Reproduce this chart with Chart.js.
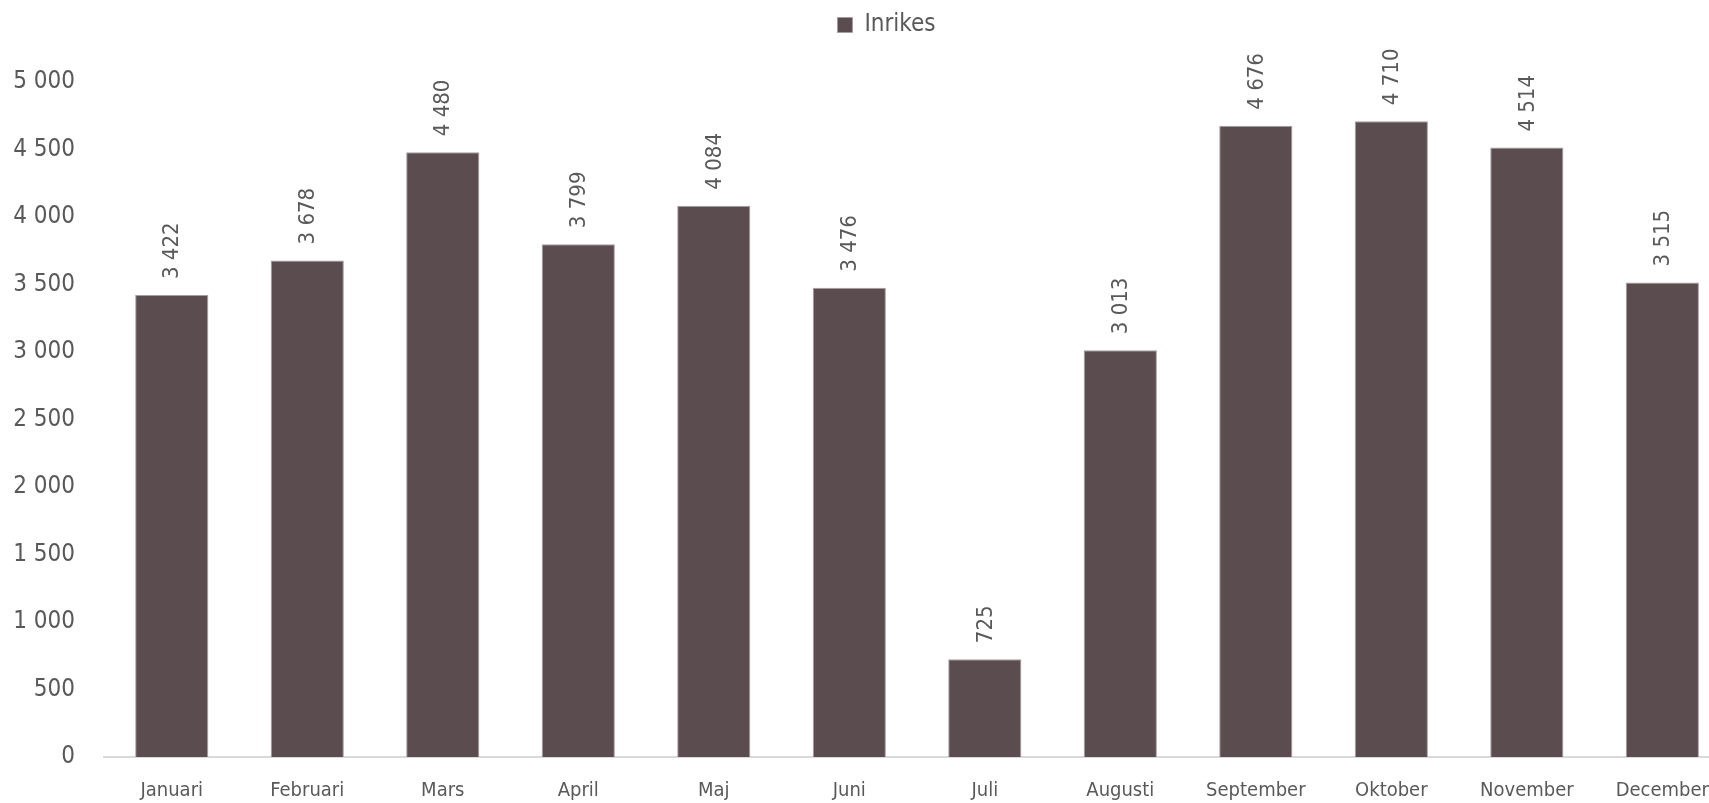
<!DOCTYPE html>
<html>
<head>
<meta charset="utf-8">
<script src="https://cdn.jsdelivr.net/npm/chart.js@4.4.1/dist/chart.umd.min.js"></script>
<style>
html, body { margin: 0; padding: 0; overflow: hidden; background: #ffffff; }
#wrap { width: 1731px; height: 803px; position: relative; }
</style>
</head>
<body>
<div id="wrap"><canvas id="c"></canvas></div>
<script>
const categories = ["Januari","Februari","Mars","April","Maj","Juni","Juli","Augusti","September","Oktober","November","December"];
const seriesName = "Inrikes";
const values = [3422, 3678, 4480, 3799, 4084, 3476, 725, 3013, 4676, 4710, 4514, 3515];
const yTicks = [0, 500, 1000, 1500, 2000, 2500, 3000, 3500, 4000, 4500, 5000];

const FONT = "'DejaVu Sans Condensed', 'Liberation Sans Narrow', sans-serif";
const TEXT = "#595959";

function fmt(v) {
  return String(v).replace(/\B(?=(\d{3})+(?!\d))/g, " ");
}

const dataLabels = {
  id: "dataLabels",
  afterDatasetsDraw(chart) {
    const ctx = chart.ctx;
    const meta = chart.getDatasetMeta(0);
    ctx.save();
    ctx.fillStyle = TEXT;
    ctx.font = "22px " + FONT;
    ctx.textAlign = "left";
    ctx.textBaseline = "middle";
    meta.data.forEach((bar, i) => {
      ctx.save();
      ctx.translate(bar.x + 1, bar.y - 16);
      ctx.rotate(-Math.PI / 2);
      ctx.fillText(fmt(values[i]), 0, 0);
      ctx.restore();
    });
    ctx.restore();
  }
};

const legendTweak = {
  id: "legendTweak",
  beforeLayout(chart) {
    const lg = chart.legend;
    if (lg && !lg._tweaked) {
      const f = lg.fit;
      lg.fit = function () { f.call(this); this.height += 37; };
      const d = lg.draw;
      lg.draw = function (...a) {
        this.ctx.save();
        this.ctx.translate(21, 2);
        d.apply(this, a);
        this.ctx.restore();
      };
      lg._tweaked = true;
    }
  }
};

new Chart(document.getElementById("c"), {
  type: "bar",
  data: {
    labels: categories,
    datasets: [{
      label: seriesName,
      data: values,
      backgroundColor: "#5b4c50",
      borderColor: "#a59ea0",
      borderWidth: 1,
      categoryPercentage: 1.0,
      barPercentage: 0.54
    }]
  },
  options: {
    responsive: true,
    maintainAspectRatio: false,
    animation: false,
    layout: { padding: { top: 0, right: 0, bottom: 0, left: 0 } },
    plugins: {
      legend: {
        display: true,
        position: "top",
        labels: {
          color: TEXT,
          font: { family: FONT, size: 24 },
          boxWidth: 15,
          boxHeight: 15,
          padding: 11
        }
      },
      tooltip: { enabled: false }
    },
    scales: {
      x: {
        grid: { display: false, drawTicks: false },
        border: { display: true, color: "#d9d9d9", width: 2 },
        ticks: {
          color: TEXT,
          font: { family: FONT, size: 20 },
          padding: 22,
          maxRotation: 0,
          autoSkip: false
        },
        afterFit(scale) { scale.height = 46; }
      },
      y: {
        min: 0,
        max: 5000,
        grid: { display: false, drawTicks: false },
        border: { display: false },
        afterBuildTicks(scale) { scale.ticks = yTicks.map(v => ({ value: v })); },
        ticks: {
          color: TEXT,
          font: { family: FONT, size: 24 },
          padding: 29,
          callback: (v) => fmt(v)
        },
        afterFit(scale) { scale.width = 104; }
      }
    }
  },
  plugins: [dataLabels, legendTweak]
});
</script>
</body>
</html>
